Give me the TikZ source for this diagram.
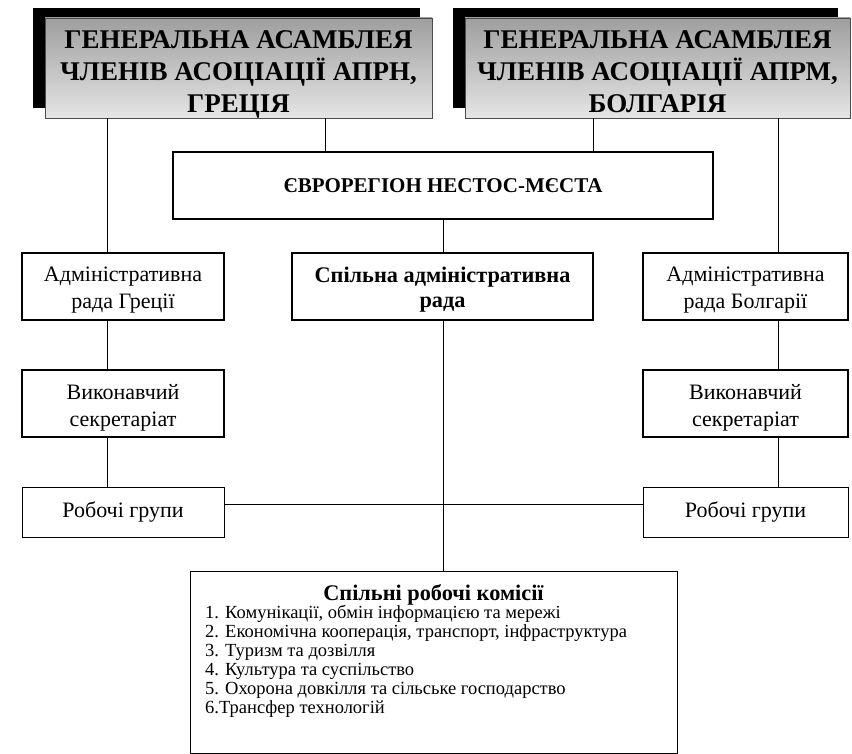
\documentclass[tikz,border=0pt]{standalone}
\usepackage{fontspec}
\setmainfont{Liberation Serif}[BoldFont={Liberation Serif Bold},ItalicFont={Liberation Serif Italic}]
\newcommand{\bxt}[2]{\raisebox{#1}[\height][\depth]{\begin{tabular}{@{}c@{}}#2\end{tabular}}}
\begin{document}
\begin{tikzpicture}[x=1pt,y=-1pt,
  gabox/.style={draw=black!70, line width=0.8pt, top color=black!38, bottom color=black!10,
     minimum width=387pt, minimum height=100pt, inner sep=0pt, align=center,
     font=\bfseries\fontsize{27}{31.5}\selectfont},
  shadowbox/.style={fill=black, draw=none, minimum width=387pt, minimum height=100pt, inner sep=0pt},
  thickbox/.style={draw=black, line width=1.8pt, fill=white, inner sep=0pt, align=center},
  thinbox/.style={draw=black, line width=0.8pt, fill=white, inner sep=0pt, align=center},
  txt/.style={font=\fontsize{22}{27}\selectfont},
  btxt/.style={font=\bfseries\fontsize{22.3}{25}\selectfont},
  conn/.style={draw=black, line width=0.9pt}
]
\useasboundingbox (0,0) rectangle (852,754);
% shadows
\node[shadowbox] (sA) at (226.5,58) {};
\node[shadowbox, minimum width=385pt] (sB) at (645.5,58) {};
% top boxes
\node[gabox] (gA) at (238.5,68) {\bxt{-6pt}{ГЕНЕРАЛЬНА АСАМБЛЕЯ\\ЧЛЕНІВ АСОЦІАЦІЇ АПРН,\\ГРЕЦІЯ}};
\node[gabox, minimum width=385pt] (gB) at (657.5,68) {\bxt{-6pt}{ГЕНЕРАЛЬНА АСАМБЛЕЯ\\ЧЛЕНІВ АСОЦІАЦІЇ АПРМ,\\БОЛГАРІЯ}};
% euroregion
\node[thickbox, minimum width=540pt, minimum height=67pt,
  font=\bfseries\fontsize{21}{24}\selectfont] (euro) at (443,185.5) {\bxt{-2pt}{ЄВРОРЕГІОН НЕСТОС-МЄСТА}};
% second row
\node[thickbox, txt, minimum width=202pt, minimum height=67pt] (admG) at (123,286.5) {\bxt{-3pt}{Адміністративна\\рада Греції}};
\node[thickbox, btxt, minimum width=301pt, minimum height=67pt] (mid) at (442.5,286.5) {\bxt{-4pt}{Спільна адміністративна\\рада}};
\node[thickbox, txt, minimum width=205pt, minimum height=67pt] (admB) at (745.5,286.5) {\bxt{-3pt}{Адміністративна\\рада Болгарії}};
% third row
\node[thickbox, txt, minimum width=202pt, minimum height=67pt] (exG) at (123,403.5) {\bxt{-4pt}{Виконавчий\\секретаріат}};
\node[thickbox, txt, minimum width=205pt, minimum height=67pt] (exB) at (745.5,403.5) {\bxt{-4pt}{Виконавчий\\секретаріат}};
% working groups
\node[thinbox, txt, minimum width=202pt, minimum height=50pt] (wgG) at (123,512) {Робочі групи};
\node[thinbox, txt, minimum width=205pt, minimum height=50pt] (wgB) at (745.5,512) {Робочі групи};
% bottom box
\node[thinbox, minimum width=487pt, minimum height=182pt] (bot) at (433.5,662) {};
\node[font=\bfseries\fontsize{22.3}{24}\selectfont, inner sep=0pt] (botT) at (433.5,595) {Спільні робочі комісії};
\node[anchor=north west, align=left, inner sep=0pt, font=\fontsize{18.5}{19}\selectfont] (botL) at (205,605)
 {1. Комунікації, обмін інформацією та мережі\\
  2. Економічна кооперація, транспорт, інфраструктура\\
  3. Туризм та дозвілля\\
  4. Культура та суспільство\\
  5. Охорона довкілля та сільське господарство\\
  6.Трансфер технологій};
% connector guide coordinates
\coordinate (cL) at (107,0);
\coordinate (cR) at (778,0);
\coordinate (cM1) at (325,0);
\coordinate (cM2) at (593,0);
\coordinate (cH) at (0,504);
% connectors
\draw[conn] (gA.south -| cL) -- (admG.north -| cL);
\draw[conn] (admG.south -| cL) -- (exG.north -| cL);
\draw[conn] (exG.south -| cL) -- (wgG.north -| cL);
\draw[conn] (gB.south -| cR) -- (admB.north -| cR);
\draw[conn] (admB.south -| cR) -- (exB.north -| cR);
\draw[conn] (exB.south -| cR) -- (wgB.north -| cR);
\draw[conn] (gA.south -| cM1) -- (euro.north -| cM1);
\draw[conn] (gB.south -| cM2) -- (euro.north -| cM2);
\draw[conn] (euro.south) -- (mid.north -| euro.south);
\draw[conn] (mid.south -| euro.south) -- (bot.north -| euro.south);
\draw[conn] (wgG.east |- cH) -- (wgB.west |- cH);
\end{tikzpicture}
\end{document}
